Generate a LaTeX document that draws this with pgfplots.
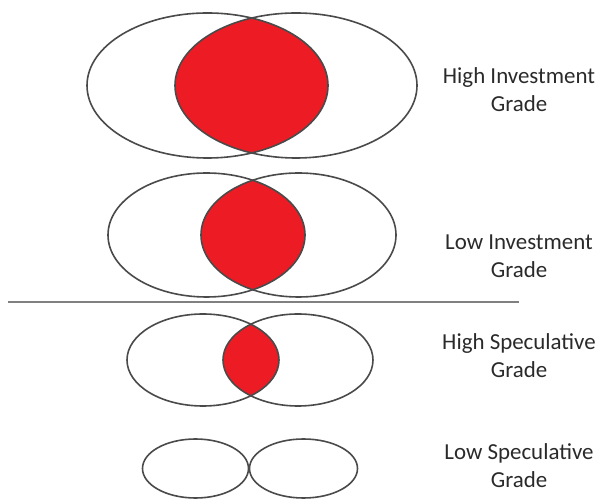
\documentclass[border=0pt]{standalone}
\usepackage{pgfplots}
\pgfplotsset{compat=1.18}
\usepackage{fontspec}
\setmainfont{Carlito}
\definecolor{vred}{HTML}{ED1C24}
\definecolor{edge}{HTML}{4A4A4A}
\definecolor{txt}{HTML}{2A2A2A}
\begin{document}
\begin{tikzpicture}
\begin{axis}[
  scale only axis, width=601bp, height=501bp,
  xmin=0, xmax=601, ymin=0, ymax=501,
  hide axis, clip=false,
]
\addplot[draw=none] coordinates {(0,0) (601,501)};
% row 1: High Investment Grade
\begin{scope}
  \clip (axis cs:207.5,415.5) ellipse [x radius=120.5, y radius=72.5];
  \fill[vred] (axis cs:296,415.5) ellipse [x radius=121, y radius=72.5];
\end{scope}
\draw[edge, line width=1.6bp] (axis cs:207.5,415.5) ellipse [x radius=120.5, y radius=72.5];
\draw[edge, line width=1.6bp] (axis cs:296,415.5) ellipse [x radius=121, y radius=72.5];
% row 2: Low Investment Grade
\begin{scope}
  \clip (axis cs:206.5,266) ellipse [x radius=98.5, y radius=62];
  \fill[vred] (axis cs:298.5,266) ellipse [x radius=97.5, y radius=62];
\end{scope}
\draw[edge, line width=1.6bp] (axis cs:206.5,266) ellipse [x radius=98.5, y radius=62];
\draw[edge, line width=1.6bp] (axis cs:298.5,266) ellipse [x radius=97.5, y radius=62];
% separator
\addplot[color=gray, line width=1.5bp] coordinates {(8,199) (519,199)};
% row 3: High Speculative Grade
\begin{scope}
  \clip (axis cs:203,141) ellipse [x radius=76, y radius=46];
  \fill[vred] (axis cs:298,141) ellipse [x radius=75, y radius=46];
\end{scope}
\draw[edge, line width=1.6bp] (axis cs:203,141) ellipse [x radius=76, y radius=46];
\draw[edge, line width=1.6bp] (axis cs:298,141) ellipse [x radius=75, y radius=46];
% row 4: Low Speculative Grade
\draw[edge, line width=1.6bp] (axis cs:195.5,32.5) ellipse [x radius=53, y radius=29.5];
\draw[edge, line width=1.6bp] (axis cs:303.5,32.5) ellipse [x radius=54, y radius=29.5];
% labels
\begin{scope}[every node/.style={align=center, inner sep=0pt, text=txt, font=\fontsize{23}{28}\selectfont}]
\node at (axis cs:519,411) {High Investment\\Grade};
\node at (axis cs:519,244.5) {Low Investment\\Grade};
\node at (axis cs:519,145.5) {High Speculative\\Grade};
\node at (axis cs:519,35) {Low Speculative\\Grade};
\end{scope}
\end{axis}
\end{tikzpicture}
\end{document}
